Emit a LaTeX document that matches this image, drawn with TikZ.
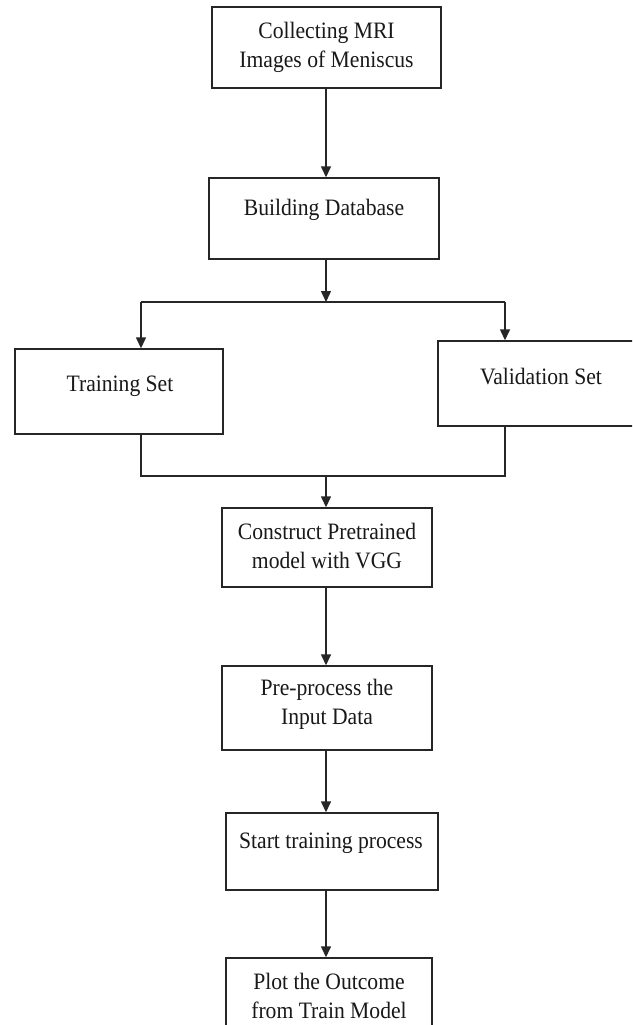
\documentclass[tikz,border=0pt]{standalone}
\usepackage{fontspec}
\setmainfont{Liberation Serif}[FakeStretch=0.92]
\usetikzlibrary{arrows.meta}
\begin{document}
\begin{tikzpicture}[x=1pt,y=-1pt,
  box/.style={draw=black!85, line width=1.4pt, rectangle, inner sep=0pt},
  lbl/.style={align=center, inner sep=0pt, font=\fontsize{23.5}{28.5}\selectfont, text=black!90},
  conn/.style={draw=black!85, line width=1.4pt},
  arr/.style={conn, -{Triangle[length=11pt,width=10pt]}}]
\clip (0,0) rectangle (632,1025);
\fill[white] (0,0) rectangle (632,1025);
% boxes
\node[box, minimum width=229pt, minimum height=81pt] (b1) at (326.5,47.5) {};
\node[box, minimum width=230pt, minimum height=81pt] (b2) at (324,218.5) {};
\node[box, minimum width=208pt, minimum height=85pt] (train) at (119,391.5) {};
\node[box, minimum width=202pt, minimum height=85pt] (val) at (539,383.5) {};
\node[box, minimum width=210pt, minimum height=79pt] (cons) at (327,547.5) {};
\node[box, minimum width=210pt, minimum height=84pt] (pre) at (327,708) {};
\node[box, minimum width=212pt, minimum height=77pt] (start) at (332,851.5) {};
\node[box, minimum width=206pt, minimum height=90pt] (plot) at (329,1003) {};
% labels
\node[lbl] (t1) at (326.5,47.5) {Collecting MRI\\Images of Meniscus};
\node[lbl] (t2) at (324,210) {Building Database};
\node[lbl] (t3) at (120,386) {Training Set};
\node[lbl] (t4) at (541,377) {Validation Set};
\node[lbl] (t5) at (327,546) {Construct Pretrained\\model with VGG};
\node[lbl] (t6) at (327,704.5) {Pre-process the\\Input Data};
\node[lbl] (t7) at (331,843) {Start training process};
\node[lbl] (t8) at (329,996) {Plot the Outcome\\from Train Model};
% junction coordinates
\coordinate (split) at (326,302);
\coordinate (sl) at (141,302);
\coordinate (sr) at (505,302);
\coordinate (merge) at (326,476);
\coordinate (ml) at (141,476);
\coordinate (mr) at (505,476);
% connectors
\draw[arr] (b1.south -| split) -- (b2.north -| split);
\draw[arr] (b2.south -| split) -- (split);
\draw[conn] (sl) -- (sr);
\draw[arr] (sl) -- (sl |- train.north);
\draw[arr] (sr) -- (sr |- val.north);
\draw[conn] (train.south -| ml) -- (ml) -- (mr) -- (val.south -| mr);
\draw[arr] (merge) -- (cons.north -| merge);
\draw[arr] (cons.south -| merge) -- (pre.north -| merge);
\draw[arr] (pre.south -| merge) -- (start.north -| merge);
\draw[arr] (start.south -| merge) -- (plot.north -| merge);
\end{tikzpicture}
\end{document}
